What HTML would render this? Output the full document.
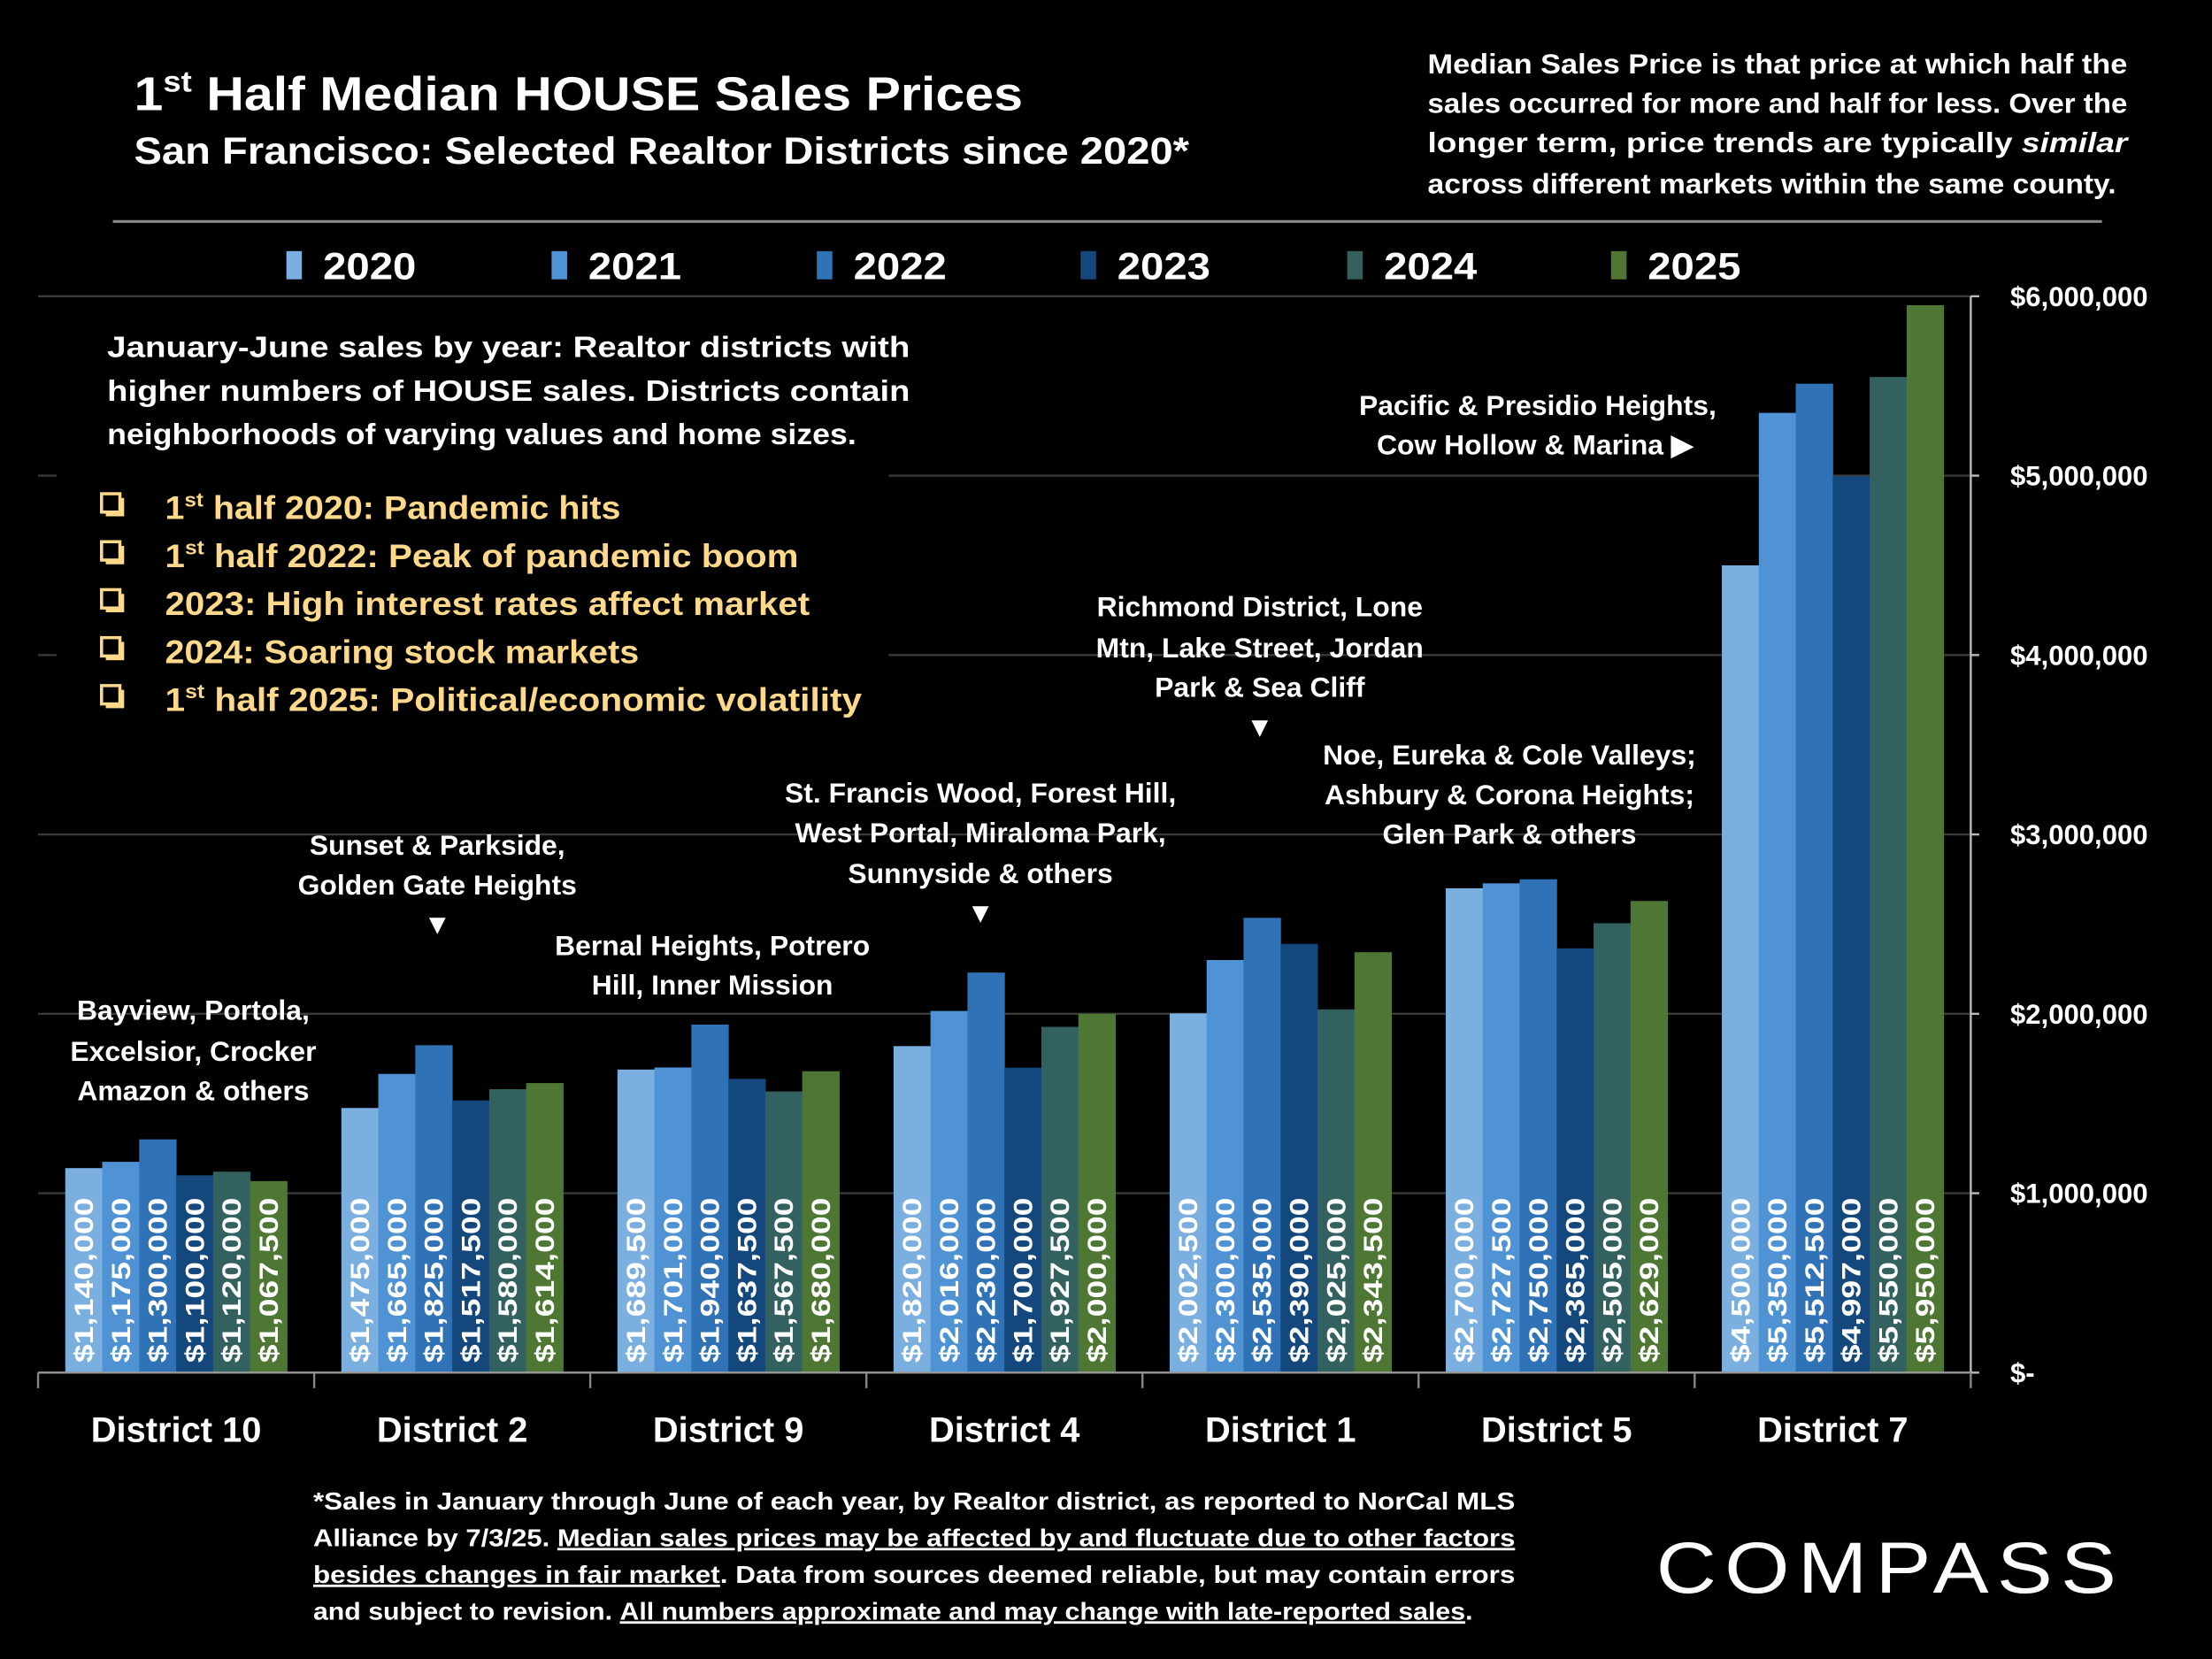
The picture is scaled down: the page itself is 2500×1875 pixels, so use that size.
<!DOCTYPE html>
<html><head><meta charset="utf-8"><style>
html,body{margin:0;padding:0;background:#000;}
svg{display:block;font-family:"Liberation Sans",sans-serif;}
</style></head><body>
<svg id="chart" width="2500" height="1875" viewBox="0 0 1568 1176" xmlns="http://www.w3.org/2000/svg">
<rect width="1568" height="1176" fill="#000"/>
<g fill="#fff" font-weight="bold">
<text x="95" y="78" font-size="34" textLength="630" lengthAdjust="spacingAndGlyphs">1<tspan font-size="21" dy="-13">st</tspan><tspan dy="13"> Half Median HOUSE Sales Prices</tspan></text>
<text x="95" y="116" font-size="27" textLength="748" lengthAdjust="spacingAndGlyphs">San Francisco: Selected Realtor Districts since 2020*</text>
</g>
<g fill="#fff" font-weight="bold" font-size="19.5">
<text x="1012" y="52" textLength="496" lengthAdjust="spacingAndGlyphs">Median Sales Price is that price at which half the</text>
<text x="1012" y="80" textLength="496" lengthAdjust="spacingAndGlyphs">sales occurred for more and half for less. Over the</text>
<text x="1012" y="108" textLength="496" lengthAdjust="spacingAndGlyphs">longer term, price trends are typically <tspan font-style="italic">similar</tspan></text>
<text x="1012" y="137" textLength="488" lengthAdjust="spacingAndGlyphs">across different markets within the same county.</text>
</g>
<line x1="80" y1="157" x2="1490" y2="157" stroke="#8a8a8a" stroke-width="2"/>
<g id="legend"></g>
<g id="grid"></g>
<g id="bars"></g>
<g id="axes"></g>
<g>
<rect x="40" y="222" width="590" height="300" fill="#000"/>
<g fill="#fff" font-weight="bold" font-size="21">
<text x="76" y="253" textLength="569" lengthAdjust="spacingAndGlyphs">January-June sales by year: Realtor districts with</text>
<text x="76" y="284" textLength="569" lengthAdjust="spacingAndGlyphs">higher numbers of HOUSE sales. Districts contain</text>
<text x="76" y="315" textLength="531" lengthAdjust="spacingAndGlyphs">neighborhoods of varying values and home sizes.</text>
</g>
<g fill="#ffd98a" font-weight="bold" font-size="23">
<g><rect x="75" y="353" width="13" height="13" fill="#ffd98a"/><rect x="72" y="350" width="13" height="13" fill="#000" stroke="#ffd98a" stroke-width="2.2"/><text x="117" y="368" textLength="323" lengthAdjust="spacingAndGlyphs">1<tspan font-size="14" dy="-9">st</tspan><tspan dy="9"> half 2020: Pandemic hits</tspan></text></g>
<g><rect x="75" y="387" width="13" height="13" fill="#ffd98a"/><rect x="72" y="384" width="13" height="13" fill="#000" stroke="#ffd98a" stroke-width="2.2"/><text x="117" y="402" textLength="449" lengthAdjust="spacingAndGlyphs">1<tspan font-size="14" dy="-9">st</tspan><tspan dy="9"> half 2022:  Peak of pandemic boom</tspan></text></g>
<g><rect x="75" y="421" width="13" height="13" fill="#ffd98a"/><rect x="72" y="418" width="13" height="13" fill="#000" stroke="#ffd98a" stroke-width="2.2"/><text x="117" y="436" textLength="457" lengthAdjust="spacingAndGlyphs">2023:  High interest rates affect market</text></g>
<g><rect x="75" y="455" width="13" height="13" fill="#ffd98a"/><rect x="72" y="452" width="13" height="13" fill="#000" stroke="#ffd98a" stroke-width="2.2"/><text x="117" y="470" textLength="336" lengthAdjust="spacingAndGlyphs">2024:  Soaring stock markets</text></g>
<g><rect x="75" y="489" width="13" height="13" fill="#ffd98a"/><rect x="72" y="486" width="13" height="13" fill="#000" stroke="#ffd98a" stroke-width="2.2"/><text x="117" y="504" textLength="494" lengthAdjust="spacingAndGlyphs">1<tspan font-size="14" dy="-9">st</tspan><tspan dy="9"> half 2025:  Political/economic volatility</tspan></text></g>
</g>
</g>
<g fill="#fff" font-weight="bold" font-size="20" text-anchor="middle">
<g><text x="1090" y="294">Pacific &amp; Presidio Heights,</text><text x="1088" y="322">Cow Hollow &amp; Marina ▶</text></g>
<g><text x="893" y="437">Richmond District, Lone</text><text x="893" y="466">Mtn, Lake Street, Jordan</text><text x="893" y="494">Park &amp; Sea Cliff</text><text x="893" y="522">▼</text></g>
<g><text x="1070" y="542">Noe, Eureka &amp; Cole Valleys;</text><text x="1070" y="570">Ashbury &amp; Corona Heights;</text><text x="1070" y="598">Glen Park &amp; others</text></g>
<g><text x="695" y="569">St. Francis Wood, Forest Hill,</text><text x="695" y="597">West Portal, Miraloma Park,</text><text x="695" y="626">Sunnyside &amp; others</text><text x="695" y="654">▼</text></g>
<g><text x="310" y="606">Sunset &amp; Parkside,</text><text x="310" y="634">Golden Gate Heights</text><text x="310" y="662">▼</text></g>
<g><text x="505" y="677">Bernal Heights, Potrero</text><text x="505" y="705">Hill, Inner Mission</text></g>
<g><text x="137" y="723">Bayview, Portola,</text><text x="137" y="752">Excelsior, Crocker</text><text x="137" y="780">Amazon &amp; others</text></g>
</g>
<g fill="#fff" font-weight="bold" font-size="17.5">
<text x="222" y="1070" textLength="852" lengthAdjust="spacingAndGlyphs">*Sales in January through June of each year, by Realtor district, as reported to NorCal MLS</text>
<text x="222" y="1096" textLength="852" lengthAdjust="spacingAndGlyphs">Alliance by 7/3/25. <tspan text-decoration="underline">Median sales prices may be affected by and fluctuate due to other factors</tspan></text>
<text x="222" y="1122" textLength="852" lengthAdjust="spacingAndGlyphs"><tspan text-decoration="underline">besides changes in fair market</tspan>. Data from sources deemed reliable, but may contain errors</text>
<text x="222" y="1148" textLength="822" lengthAdjust="spacingAndGlyphs">and subject to revision. <tspan text-decoration="underline">All numbers approximate and may change with late-reported sales</tspan>.</text>
</g>
<g>
<text x="1174" y="1129" fill="#fff" font-size="51" letter-spacing="5" textLength="332" lengthAdjust="spacingAndGlyphs">COMPASS</text>
</g>
<script>
const districts = ["District 10","District 2","District 9","District 4","District 1","District 5","District 7"];
const years = ["2020","2021","2022","2023","2024","2025"];
const colors = ["#7aafe0","#4f93d4","#2f72b6","#14487c","#336160","#4e7733"];
const v2020 = [1140000,1475000,1689500,1820000,2002500,2700000,4500000];
const v2021 = [1175000,1665000,1701000,2016000,2300000,2727500,5350000];
const v2022 = [1300000,1825000,1940000,2230000,2535000,2750000,5512500];
const v2023 = [1100000,1517500,1637500,1700000,2390000,2365000,4997000];
const v2024 = [1120000,1580000,1567500,1927500,2025000,2505000,5550000];
const v2025 = [1067500,1614000,1680000,2000000,2343500,2629000,5950000];
const yTicks = [0,1000000,2000000,3000000,4000000,5000000,6000000];
const yTickLabels = ["$-","$1,000,000","$2,000,000","$3,000,000","$4,000,000","$5,000,000","$6,000,000"];
const series = [v2020,v2021,v2022,v2023,v2024,v2025];

const NS = "http://www.w3.org/2000/svg";
const X0 = 27, X1 = 1397, Y0 = 973, YTOP = 210, YMAX = 6000000;
const catW = (X1 - X0) / districts.length;
const barW = 26.2, groupPad = (catW - barW * years.length) / 2;
function yScale(v){ return Y0 - (v / YMAX) * (Y0 - YTOP); }
function xCat(i){ return X0 + i * catW; }
function mk(tag, attrs, parent){ const e = document.createElementNS(NS, tag); for (const k in attrs) e.setAttribute(k, attrs[k]); parent.appendChild(e); return e; }
function fmt(v){ return "$" + v.toLocaleString("en-US"); }

const grid = document.getElementById("grid");
const axes = document.getElementById("axes");
const bars = document.getElementById("bars");
const legend = document.getElementById("legend");

yTicks.forEach((t, i) => {
  const y = yScale(t);
  if (t > 0) {
    const g = mk("line", {x1: X0, x2: X1, y1: y, y2: y, stroke: "#3a3a3a", "stroke-width": 1.5}, grid);
    
    
  }
  const tk = mk("line", {x1: X1, x2: X1 + 6, y1: y, y2: y, stroke: "#bbb", "stroke-width": 1.5}, axes);
  
  
  const lb = mk("text", {x: 1425, y: y + 7, fill: "#fff", "font-size": 19.5, "font-weight": "bold"}, axes);
  lb.textContent = yTickLabels[i];
  
  
});
const ya = mk("line", {x1: X1, x2: X1, y1: YTOP, y2: Y0, stroke: "#bbb", "stroke-width": 1.5}, axes);


const xa = mk("line", {x1: X0, x2: X1, y1: Y0, y2: Y0, stroke: "#999", "stroke-width": 1.5}, axes);



for (let i = 0; i <= districts.length; i++) {
  const t = mk("line", {x1: xCat(i), x2: xCat(i), y1: Y0, y2: Y0 + 11, stroke: "#888", "stroke-width": 1.5}, axes);
  
  
}
districts.forEach((d, i) => {
  const lb = mk("text", {x: xCat(i) + catW / 2, y: 1022, fill: "#fff", "font-size": 25, "font-weight": "bold", "text-anchor": "middle"}, axes);
  lb.textContent = d;
  
  
  series.forEach((s, j) => {
    const x = xCat(i) + groupPad + j * barW;
    const y = yScale(s[i]);
    const r = mk("rect", {x: x, y: y, width: barW + 0.3, height: Y0 - y, fill: colors[j]}, bars);
    
    
    const cx = x + barW / 2 + 6.5, cy = 966;
    const tl = mk("text", {x: cx, y: cy, fill: "#fff", "font-size": 18.5, "font-weight": "bold", transform: "rotate(-90 " + cx + " " + cy + ")", textLength: 117, lengthAdjust: "spacingAndGlyphs"}, bars);
    tl.textContent = fmt(s[i]);
    
    
  });
});

const legX = [203, 391, 579, 766, 955, 1142];
years.forEach((yr, j) => {
  const g = mk("g", {}, legend);
  
  
  mk("rect", {x: legX[j], y: 178, width: 11, height: 20, fill: colors[j]}, g);
  const t = mk("text", {x: legX[j] + 26, y: 198, fill: "#fff", "font-size": 27, "font-weight": "bold", textLength: 66, lengthAdjust: "spacingAndGlyphs"}, g);
  t.textContent = yr;
});
</script>
</svg>
</body></html>
